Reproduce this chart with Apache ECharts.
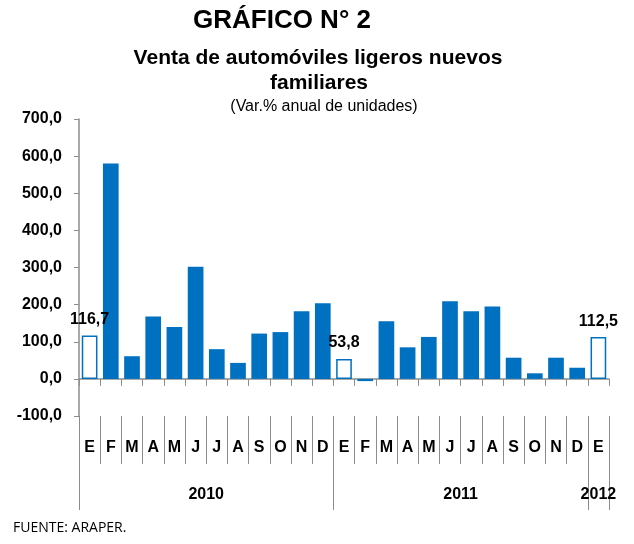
<!DOCTYPE html>
<html>
<head>
<meta charset="utf-8">
<script src="https://cdn.jsdelivr.net/npm/echarts@6/dist/echarts.min.js"></script>
<style>
  html, body { margin: 0; padding: 0; background: #fff; }
  #chartData { width: 634px; height: 544px; }
</style>
</head>
<body>
<div id="chartData"></div>
<script>
// meses (E = enero ... D = diciembre), 2010-01 .. 2012-01
var months = ['E','F','M','A','M','J','J','A','S','O','N','D',
              'E','F','M','A','M','J','J','A','S','O','N','D',
              'E'];
var years = ['2010', '2011', '2012'];
var yearBounds = [0, 12, 24, 25];      // limites de cada año en meses
var yearCenters = [6, 18, 24.5];
var values = [116.7, 580, 61, 168, 140, 302, 80, 43, 122, 126, 182, 204,
              53.8, -6, 155, 85, 113, 209, 182, 195, 57, 15, 57, 30,
              112.5];
var hollowIdx = [0, 12, 24];           // barras sin relleno (enero)
var yTicks = [-100, 0, 100, 200, 300, 400, 500, 600, 700];

var blue = '#0070C0';
var grey = '#8c8c8c';
var font = '"Liberation Sans", Arial, sans-serif';

var fmt = function (v) {
    return Number(v).toFixed(1).replace('.', ',');
};

var seriesdata = values.map(function (v, i) {
    if (hollowIdx.indexOf(i) >= 0) {
        return {
            value: v,
            itemStyle: { color: '#fff', borderColor: blue, borderWidth: 1.5 },
            label: { show: true }
        };
    }
    return v;
});

var myChart = echarts.init(document.getElementById('chartData'));

var option = {
    animation: false,
    textStyle: { fontFamily: font },
    grid: { left: 79, right: 25, top: 119, bottom: 128, containLabel: false },
    graphic: [
        { type: 'text', x: 282, y: 21,
          style: { text: 'GRÁFICO N° 2', font: 'bold 26px ' + font, fill: '#000',
                   textAlign: 'center', textVerticalAlign: 'middle' } },
        { type: 'text', x: 318, y: 58,
          style: { text: 'Venta de automóviles ligeros nuevos', font: 'bold 21px ' + font, fill: '#000',
                   textAlign: 'center', textVerticalAlign: 'middle' } },
        { type: 'text', x: 319, y: 83,
          style: { text: 'familiares', font: 'bold 21px ' + font, fill: '#000',
                   textAlign: 'center', textVerticalAlign: 'middle' } },
        { type: 'text', x: 324, y: 107,
          style: { text: '(Var.% anual de unidades)', font: '16px ' + font, fill: '#000',
                   textAlign: 'center', textVerticalAlign: 'middle' } },
        { type: 'text', x: 13, y: 528,
          style: { text: 'FUENTE: ARAPER.', font: '14px "Open Sans", sans-serif', fill: '#000',
                   textAlign: 'left', textVerticalAlign: 'middle' } }
    ],
    xAxis: [
        {   // eje en el cero, solo marcas
            type: 'category',
            data: months,
            axisLine: { onZero: true, lineStyle: { color: grey, width: 1.5 } },
            axisTick: { show: true, interval: 0, length: 7, lineStyle: { color: grey } },
            axisLabel: { show: false }
        },
        {   // meses
            type: 'category',
            data: months,
            position: 'bottom',
            axisLine: { show: false, onZero: false },
            axisTick: { show: true, interval: 0, length: 48, lineStyle: { color: grey } },
            axisLabel: { interval: 0, margin: 24, color: '#000', fontSize: 16, fontWeight: 'bold', fontFamily: font }
        },
        {   // años
            type: 'value',
            min: 0,
            max: 25,
            position: 'bottom',
            axisLine: { show: false, onZero: false },
            splitLine: { show: false },
            axisTick: { show: true, customValues: yearBounds, length: 94, lineStyle: { color: grey } },
            axisLabel: {
                customValues: yearCenters,
                margin: 71,
                color: '#000', fontSize: 16, fontWeight: 'bold', fontFamily: font,
                formatter: function (v) { return years[yearCenters.indexOf(v)]; }
            }
        }
    ],
    yAxis: {
        type: 'value',
        min: -100,
        max: 700,
        interval: 100,
        axisLine: { show: true, lineStyle: { color: grey, width: 1.5 } },
        axisTick: { show: true, length: 5, lineStyle: { color: grey } },
        splitLine: { show: false },
        axisLabel: {
            margin: 17, color: '#000', fontSize: 16, fontWeight: 'bold', fontFamily: font,
            customValues: yTicks,
            formatter: fmt
        }
    },
    series: [{
        type: 'bar',
        xAxisIndex: 0,
        barCategoryGap: '26%',
        itemStyle: { color: blue },
        label: {
            show: false,
            position: 'top',
            distance: 8,
            color: '#000',
            fontSize: 16,
            fontWeight: 'bold',
            fontFamily: font,
            formatter: function (p) { return fmt(p.value); }
        },
        data: seriesdata
    }]
};

myChart.setOption(option);
</script>
</body>
</html>
